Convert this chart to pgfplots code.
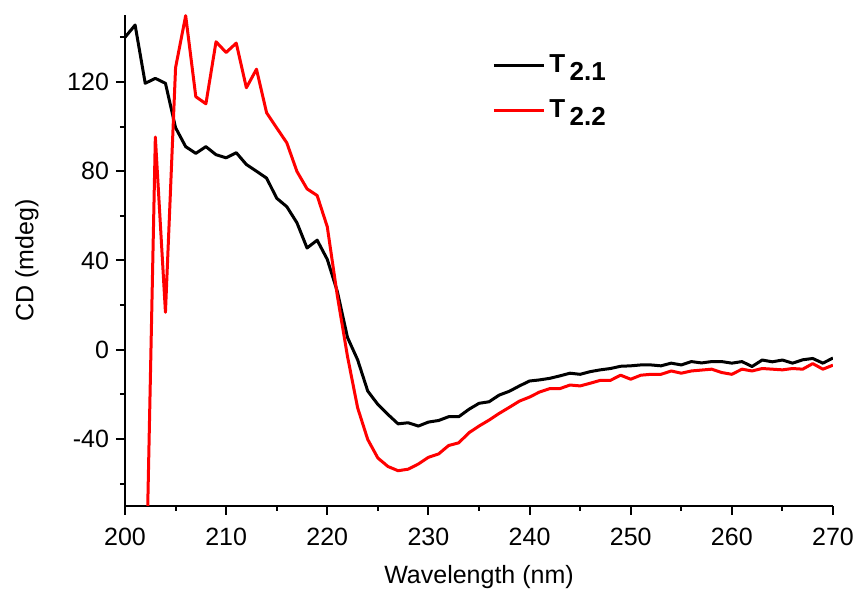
\documentclass[border=0pt]{standalone}
\usepackage{pgfplots}
\pgfplotsset{compat=1.18}
\usepackage{fontspec}
\setmainfont{Liberation Sans}

% CD spectra of the two samples, 1 nm steps
\pgfplotstableread{
wl cd
200 140
201 145.5
202 119.4
203 121.6
204 119.4
205 99.5
206 91
207 88
208 91
209 87.4
210 86
211 88.3
212 83
213 80
214 76.9
215 67.9
216 64.1
217 56.9
218 45.6
219 49.1
220 40.5
221 26
222 5.5
223 -4.5
224 -18.5
225 -24.5
226 -29
227 -33.2
228 -32.7
229 -34.2
230 -32.4
231 -31.7
232 -30
233 -30
234 -26.7
235 -24
236 -23.3
237 -20.3
238 -18.6
239 -16.2
240 -14
241 -13.5
242 -12.8
243 -11.7
244 -10.5
245 -11
246 -9.8
247 -9
248 -8.4
249 -7.4
250 -7.2
251 -6.8
252 -6.8
253 -7.2
254 -6
255 -6.8
256 -5.3
257 -5.9
258 -5.3
259 -5.3
260 -6
261 -5.3
262 -7.5
263 -4.6
264 -5.4
265 -4.6
266 -6
267 -4.5
268 -3.9
269 -6
270 -3.7
}\tone

\pgfplotstableread{
wl cd
202 -125
203 95.3
204 16.8
205 126.4
206 149.7
207 113.4
208 110.2
209 138
210 133.2
211 137.4
212 117.4
213 125.7
214 106.2
215 99.4
216 92.7
217 79.9
218 72.1
219 69.1
220 55.1
221 24
222 -3
223 -26
224 -40.2
225 -48.5
226 -52.3
227 -54.2
228 -53.5
229 -51.2
230 -48.2
231 -46.7
232 -42.9
233 -41.7
234 -37.2
235 -34.2
236 -31.5
237 -28.5
238 -25.8
239 -23
240 -21.2
241 -18.9
242 -17.4
243 -17.4
244 -15.8
245 -16.2
246 -15
247 -13.7
248 -13.7
249 -11.4
250 -13.2
251 -11.4
252 -11
253 -11
254 -9.5
255 -10.5
256 -9.5
257 -9.1
258 -8.7
259 -10.2
260 -11
261 -8.7
262 -9.5
263 -8.4
264 -8.7
265 -9
266 -8.4
267 -8.7
268 -6.2
269 -8.7
270 -6.9
}\ttwo

\begin{document}
\begin{tikzpicture}[x=0.5pt,y=0.5pt]
\useasboundingbox (-125,-86) rectangle (733,506);
\begin{axis}[
  at={(0,0)}, anchor=south west,
  scale only axis,
  width=354pt, height=245.5pt,
  xmin=200, xmax=270, ymin=-70, ymax=150,
  axis x line*=bottom, axis y line*=left,
  axis line style={line width=1pt},
  every tick/.style={line width=1pt, black},
  tick align=outside,
  major tick length=4.5pt, minor tick length=2.5pt,
  xtick={200,210,...,270}, minor xtick={205,215,...,265},
  ytick={-40,0,...,120}, minor ytick={-60,-20,...,140},
  /pgf/number format/assume math mode=true,
  tick label style={font=\fontsize{12.5}{15}\selectfont},
  xticklabel style={yshift=-3pt},
  xlabel={Wavelength (nm)}, ylabel={CD (mdeg)},
  label style={font=\fontsize{12.5}{15}\selectfont},
  xlabel style={at={(axis description cs:0.5,-0.1446)}, anchor=center},
  ylabel style={at={(axis description cs:-0.1384,0.5)}, anchor=center},
  legend style={at={(0.51,0.936)}, anchor=north west, draw=none, fill=none,
    font=\fontsize{13}{15}\selectfont\bfseries, row sep=8pt,
    legend cell align=left},
  legend image code/.code={\draw[#1] (0pt,0pt) -- (25pt,0pt);},
  clip=true,
]
\addplot[black, line width=1.5pt, line join=round] table[x=wl, y=cd] {\tone};
\addlegendentry{T\,\raisebox{-0.55ex}{2.1}}
\addplot[red, line width=1.5pt, line join=round] table[x=wl, y=cd] {\ttwo};
\addlegendentry{T\,\raisebox{-0.55ex}{2.2}}
\end{axis}
\end{tikzpicture}
\end{document}
